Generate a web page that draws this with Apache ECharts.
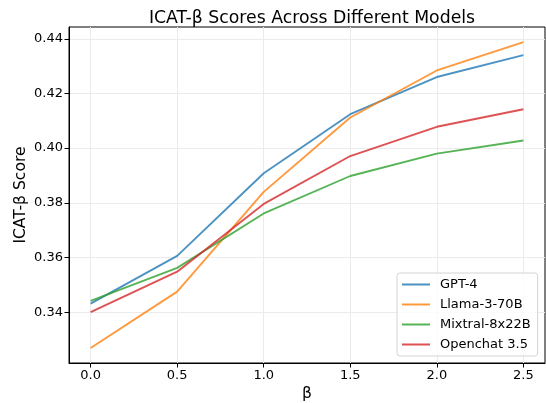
<!DOCTYPE html>
<html>
<head>
<meta charset="utf-8">
<script src="https://cdn.jsdelivr.net/npm/echarts@6/dist/echarts.min.js"></script>
<style>
  html, body { margin: 0; padding: 0; background: #fff; }
  #chart { width: 546px; height: 403px; }
</style>
</head>
<body>
<div id="chart"></div>
<script>
// beta values on the x axis
const betas = [0.0, 0.5, 1.0, 1.5, 2.0, 2.5];
const xTicks = [0.0, 0.5, 1.0, 1.5, 2.0, 2.5];
const yTicks = [0.34, 0.36, 0.38, 0.40, 0.42, 0.44];

const gpt4     = [0.3431, 0.3606, 0.3908, 0.4124, 0.4260, 0.4340];
const llama    = [0.3269, 0.3475, 0.3840, 0.4112, 0.4284, 0.4388];
const mixtral  = [0.3441, 0.3562, 0.3761, 0.3898, 0.3980, 0.4028];
const openchat = [0.3400, 0.3548, 0.3796, 0.3971, 0.4078, 0.4142];

const names  = ["GPT-4", "Llama-3-70B", "Mixtral-8x22B", "Openchat 3.5"];
const colors = ["rgba(31,119,180,0.8)", "rgba(255,127,14,0.8)", "rgba(44,160,44,0.8)", "rgba(214,39,40,0.8)"];

const font = "DejaVu Sans";
const myChart = echarts.init(document.getElementById("chart"));

const series = [gpt4, llama, mixtral, openchat].map((vals, i) => ({
  name: names[i],
  type: "line",
  symbol: "none",
  data: betas.map((b, j) => [b, vals[j]]),
  lineStyle: { color: colors[i], width: 1.9 },
  itemStyle: { color: colors[i] },
  emphasis: { disabled: true },
}));

const option = {
  animation: false,
  title: {
    text: "ICAT-β Scores Across Different Models",
    left: 307, top: 5, textAlign: "center",
    textStyle: { fontFamily: font, fontSize: 17.3, fontWeight: "normal", color: "#000" },
  },
  grid: {
    left: 69, right: 1, top: 27, bottom: 40,
    outerBoundsMode: "none", containLabel: false,
    show: true, borderColor: "#000", borderWidth: 1,
  },
  legend: {
    orient: "vertical",
    left: 397, top: 273,
    icon: "rect",
    itemWidth: 28, itemHeight: 2, itemGap: 7,
    padding: [5, 7, 5, 5],
    backgroundColor: "rgba(255,255,255,0.8)",
    borderColor: "#d4d4d4", borderWidth: 1, borderRadius: 3,
    textStyle: { fontFamily: font, fontSize: 13, color: "#000", padding: [0, 0, 0, 5] },
    data: names,
  },
  xAxis: {
    type: "value",
    min: -0.125, max: 2.625,
    name: "β", nameLocation: "middle", nameGap: 23, nameMoveOverlap: false,
    nameTextStyle: { fontFamily: font, fontSize: 15.6, color: "#000" },
    axisLine: { show: true, onZero: false, lineStyle: { color: "#000", width: 1 } },
    axisTick: { show: true, length: 4.5, customValues: xTicks, lineStyle: { color: "#000" } },
    axisLabel: { customValues: xTicks, fontFamily: font, fontSize: 13, color: "#000", margin: 6,
      formatter: v => v.toFixed(1) },
    splitLine: { show: true, customValues: xTicks, lineStyle: { color: "#ebebeb", width: 1 } },
  },
  yAxis: {
    type: "value",
    min: 0.3214, max: 0.4443,
    name: "ICAT-β Score", nameLocation: "middle", nameGap: 40, nameMoveOverlap: false,
    nameTextStyle: { fontFamily: font, fontSize: 15.6, color: "#000" },
    axisLine: { show: true, onZero: false, lineStyle: { color: "#000", width: 1 } },
    axisTick: { show: true, length: 4.5, customValues: yTicks, lineStyle: { color: "#000" } },
    axisLabel: { customValues: yTicks, fontFamily: font, fontSize: 13, color: "#000", margin: 6,
      formatter: v => v.toFixed(2) },
    splitLine: { show: true, customValues: yTicks, lineStyle: { color: "#ebebeb", width: 1 } },
  },
  series: series,
};

myChart.setOption(option);
</script>
</body>
</html>
